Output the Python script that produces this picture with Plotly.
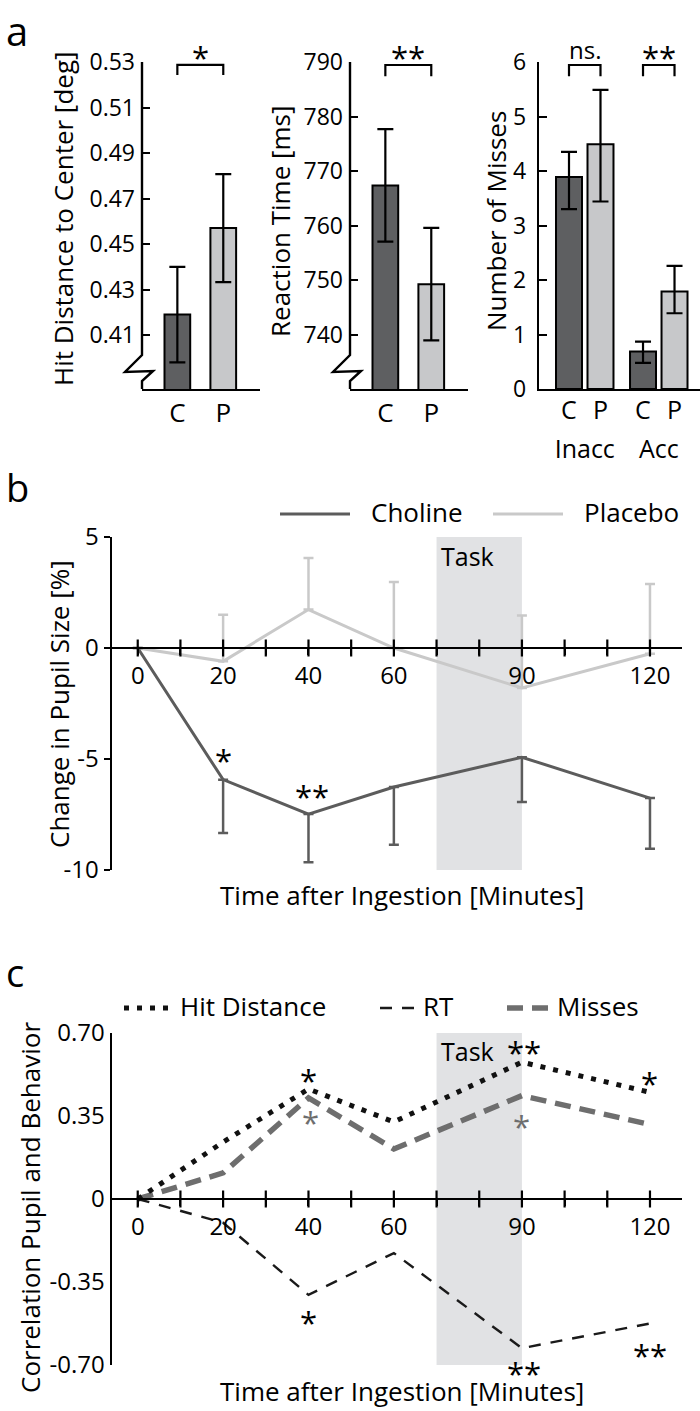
import plotly.graph_objects as go

W, H = 700, 1411

# ---------------- data ----------------
groups = ["C", "P"]
hit_dist = [0.419, 0.457]
hit_dist_se = [0.021, 0.0237]
hit_ticks = [0.41, 0.43, 0.45, 0.47, 0.49, 0.51, 0.53]

reaction_time = [767.4, 749.3]
reaction_time_se = [10.3, 10.3]
rt_ticks = [740, 750, 760, 770, 780, 790]

miss_conditions = ["Inacc", "Acc"]
misses_choline = [3.89, 0.69]
misses_choline_up = [0.46, 0.18]
misses_choline_dn = [0.59, 0.21]
misses_placebo = [4.49, 1.79]
misses_placebo_up = [1.00, 0.47]
misses_placebo_dn = [1.05, 0.40]
miss_ticks = [0, 1, 2, 3, 4, 5, 6]

times = [0, 20, 40, 60, 90, 120]
pupil_choline = [0, -5.93, -7.48, -6.26, -4.92, -6.76]
pupil_choline_se = [0, 2.40, 2.17, 2.60, 2.02, 2.28]
pupil_placebo = [0, -0.60, 1.73, 0.0, -1.80, -0.26]
pupil_placebo_se = [0, 2.10, 2.32, 2.97, 3.26, 3.14]
pupil_ticks = [5, 0, -5, -10]

corr_hit = [0, 0.24, 0.464, 0.325, 0.577, 0.45]
corr_rt = [0, -0.10, -0.404, -0.228, -0.629, -0.525]
corr_miss = [0, 0.11, 0.426, 0.211, 0.436, 0.314]
corr_ticks = [0.70, 0.35, 0, -0.35, -0.70]
corr_ticktext = ["0.70", "0.35", "0", "-0.35", "-0.70"]

time_ticks = [0, 10, 20, 30, 40, 50, 60, 70, 80, 90, 100, 110, 120]
time_labels = [0, 20, 40, 60, 90, 120]
task_window = [70, 90]

# significance marks (x, y, text, colour key)
sig_pupil = [(20, -4.73, "*", "k"), (40.9, -6.38, "**", "k")]
sig_corr = [(40, 0.532, "*", "k"), (40.5, 0.352, "*", "g"), (90.5, 0.647, "**", "k"),
            (90, 0.338, "*", "g"), (119.8, 0.520, "*", "k"), (40, -0.492, "*", "k"),
            (90.5, -0.705, "**", "k"), (120, -0.629, "**", "k")]

# ---------------- style ----------------
FONT = "Open Sans"
DARK = "#5e5f61"
LIGHT = "#c7c8ca"
CHOL = "#5c5c5c"
PLAC = "#c9c9c9"
TASK = "#e1e2e4"
MISS = "#6e6e6e"
FS_TICK = 24
FS_TXT = 26
FS_AST = 31


def px(x):
    return x / W


def py(y):
    return 1 - y / H


fig = go.Figure()

BAR_W = 0.56
err_k = dict(type="data", color="black", thickness=2.2, width=8)

# panel a, sub 1
fig.add_trace(go.Bar(x=groups, y=hit_dist, width=BAR_W,
                     error_y=dict(array=hit_dist_se, **err_k),
                     marker=dict(color=[DARK, LIGHT], line=dict(color="black", width=2)),
                     xaxis="x", yaxis="y", showlegend=False))
# panel a, sub 2
fig.add_trace(go.Bar(x=groups, y=reaction_time, width=BAR_W,
                     error_y=dict(array=reaction_time_se, **err_k),
                     marker=dict(color=[DARK, LIGHT], line=dict(color="black", width=2)),
                     xaxis="x2", yaxis="y2", showlegend=False))
# panel a, sub 3
fig.add_trace(go.Bar(x=miss_conditions, y=misses_choline, name="C",
                     error_y=dict(array=misses_choline_up, arrayminus=misses_choline_dn, symmetric=False, **err_k),
                     marker=dict(color=DARK, line=dict(color="black", width=2)),
                     xaxis="x3", yaxis="y3", showlegend=False))
fig.add_trace(go.Bar(x=miss_conditions, y=misses_placebo, name="P",
                     error_y=dict(array=misses_placebo_up, arrayminus=misses_placebo_dn, symmetric=False, **err_k),
                     marker=dict(color=LIGHT, line=dict(color="black", width=2)),
                     xaxis="x3", yaxis="y3", showlegend=False))

# panel b
fig.add_trace(go.Scatter(x=times, y=pupil_placebo, mode="lines", name="Placebo",
                         line=dict(color=PLAC, width=3),
                         error_y=dict(type="data", symmetric=False, array=pupil_placebo_se,
                                      arrayminus=[0] * len(times), color=PLAC, thickness=2.5, width=5),
                         xaxis="x4", yaxis="y4", showlegend=False))
fig.add_trace(go.Scatter(x=times, y=pupil_choline, mode="lines", name="Choline",
                         line=dict(color=CHOL, width=3),
                         error_y=dict(type="data", symmetric=False, array=[0] * len(times),
                                      arrayminus=pupil_choline_se, color=CHOL, thickness=2.5, width=5),
                         xaxis="x4", yaxis="y4", showlegend=False))
fig.add_trace(go.Scatter(x=time_ticks, y=[0] * len(time_ticks), mode="markers",
                         marker=dict(symbol="line-ns", size=12, line=dict(color="black", width=2.2)),
                         xaxis="x4", yaxis="y4", showlegend=False, hoverinfo="skip"))

# panel c
fig.add_trace(go.Scatter(x=times, y=corr_miss, mode="lines", name="Misses",
                         line=dict(color=MISS, width=5.5, dash="16px,9px"),
                         xaxis="x5", yaxis="y5", showlegend=False))
fig.add_trace(go.Scatter(x=times, y=corr_rt, mode="lines", name="RT",
                         line=dict(color="#1a1a1a", width=2.4, dash="12px,10px"),
                         xaxis="x5", yaxis="y5", showlegend=False))
fig.add_trace(go.Scatter(x=times, y=corr_hit, mode="lines", name="Hit Distance",
                         line=dict(color="#111111", width=5, dash="5px,8px"),
                         xaxis="x5", yaxis="y5", showlegend=False))
fig.add_trace(go.Scatter(x=time_ticks, y=[0] * len(time_ticks), mode="markers",
                         marker=dict(symbol="line-ns", size=12, line=dict(color="black", width=2.2)),
                         xaxis="x5", yaxis="y5", showlegend=False, hoverinfo="skip"))

tickfont = dict(family=FONT, size=FS_TICK, color="black")
AX_W = 2.4

# bars geometry in sub 3 (grouped)
BARGAP = 0.149
GROUPGAP = 0.175
slot = (1 - BARGAP) / 2
off = slot / 2


def ax_bar_x(dom, rng, fs=FS_TXT):
    return dict(domain=[px(dom[0]), px(dom[1])], range=rng, showline=True, linecolor="black",
                linewidth=AX_W, ticks="", showgrid=False, zeroline=False,
                tickfont=dict(family=FONT, size=fs, color="black"), fixedrange=True)


def ax_bar_y(rng, tv, tt, anchor, line=True):
    return dict(domain=[py(389), py(62)], range=rng, tickvals=tv, ticktext=tt, ticks="inside",
                ticklen=8, tickwidth=2, tickcolor="black", showline=line, linecolor="black",
                linewidth=AX_W, showgrid=False, zeroline=False, tickfont=dict(family=FONT, size=23, color="black"),
                anchor=anchor, ticklabelstandoff=6)


hit_rng = [0.3863, 0.53]
rt_rng = [730.1, 790]
miss_rng = [0, 6]

xb = dict(showline=True, linecolor="black", linewidth=AX_W, showgrid=False, zeroline=False,
          tickfont=tickfont, ticks="outside", ticklen=6, tickwidth=2.2, tickcolor="black")

pb_dom = [py(870), py(537)]
pb_rng = [-10, 5]
pc_dom = [py(1365), py(1033)]
pc_rng = [-0.7, 0.7]


def data_to_paper(v, dom, rng):
    return dom[0] + (v - rng[0]) / (rng[1] - rng[0]) * (dom[1] - dom[0])


time_text = [str(t) if t in time_labels else "" for t in time_ticks]
time_rng = [-6.1, 127.5]

fig.update_layout(
    width=W, height=H, margin=dict(l=0, r=0, t=0, b=0, autoexpand=False),
    paper_bgcolor="white", plot_bgcolor="rgba(0,0,0,0)",
    barmode="group", bargap=BARGAP, bargroupgap=GROUPGAP,
    font=dict(family=FONT, color="black"),
    xaxis=dict(**ax_bar_x([142, 260], [-0.77, 1.8]), anchor="y"),
    yaxis=ax_bar_y(hit_rng, hit_ticks, [f"{v:.2f}" for v in hit_ticks], "x", line=False),
    xaxis2=dict(**ax_bar_x([350, 468], [-0.77, 1.8]), anchor="y2"),
    yaxis2=ax_bar_y(rt_rng, rt_ticks, [str(v) for v in rt_ticks], "x2", line=False),
    xaxis3=dict(**ax_bar_x([539, 700], [-0.618, 1.557], fs=25), anchor="y3", ticklabelstandoff=37),
    yaxis3=ax_bar_y(miss_rng, miss_ticks, [str(v) for v in miss_ticks], "x3"),
    xaxis4=dict(**xb, domain=[px(111.7), px(682)], range=time_rng, anchor="free",
                position=data_to_paper(0, pb_dom, pb_rng), tickvals=time_ticks, ticktext=time_text),
    yaxis4=dict(domain=pb_dom, range=pb_rng, tickvals=pupil_ticks, ticktext=[str(v) for v in pupil_ticks],
                ticks="outside", ticklen=6, tickwidth=2.2, tickcolor="black", showline=True,
                linecolor="black", linewidth=AX_W, showgrid=False, zeroline=False, tickfont=tickfont,
                anchor="x4"),
    xaxis5=dict(**xb, domain=[px(111.7), px(682)], range=time_rng, anchor="free",
                position=data_to_paper(0, pc_dom, pc_rng), tickvals=time_ticks, ticktext=time_text),
    yaxis5=dict(domain=pc_dom, range=pc_rng, tickvals=corr_ticks, ticktext=corr_ticktext,
                ticks="", showline=True, linecolor="black", linewidth=AX_W, showgrid=False,
                zeroline=False, tickfont=tickfont, anchor="x5"),
)

shapes = []
# broken y axes in sub 1 & 2
for ax_x in (142, 350):
    pts = [(ax_x, 62), (ax_x, 355), (ax_x - 17, 372), (ax_x + 11, 371), (ax_x, 381), (ax_x, 389)]
    path = "M " + " L ".join(f"{px(a)},{py(b)}" for a, b in pts)
    shapes.append(dict(type="path", path=path, xref="paper", yref="paper",
                       line=dict(color="black", width=AX_W)))


def bracket(xr, yr, x0, x1, ytop, ybot):
    return dict(type="path", xref=xr, yref=yr,
                path=f"M {x0},{ybot} L {x0},{ytop} L {x1},{ytop} L {x1},{ybot}",
                line=dict(color="black", width=2.2))


shapes.append(bracket("x", "y", 0, 1, 0.5287, 0.5243))
shapes.append(bracket("x2", "y2", 0, 1, 789.45, 787.4))
shapes.append(bracket("x3", "y3", -off, off, 5.945, 5.74))
shapes.append(bracket("x3", "y3", 1 - off, 1 + off, 5.945, 5.74))

# task windows
for xr, yr, rng in (("x4", "y4", pb_rng), ("x5", "y5", pc_rng)):
    shapes.append(dict(type="rect", xref=xr, yref=yr, x0=task_window[0], x1=task_window[1],
                       y0=rng[0], y1=rng[1], fillcolor=TASK, line=dict(width=0), layer="below"))


# legend samples
def leg_line(x0, x1, y, color, width, dash="solid"):
    return dict(type="line", xref="paper", yref="paper", x0=px(x0), x1=px(x1), y0=py(y), y1=py(y),
                line=dict(color=color, width=width, dash=dash))


shapes += [leg_line(280, 350, 514, CHOL, 3), leg_line(493, 563, 514, PLAC, 3),
           leg_line(124, 172, 1008, "#111111", 5, "5px,8px"),
           leg_line(380, 418, 1008, "#1a1a1a", 2.4, "12px,10px"),
           leg_line(507, 548, 1008, MISS, 5.5, "16px,9px")]

fig.update_layout(shapes=shapes)

ann = []


def txt(x, y, s, size=FS_TXT, xanchor="center", yanchor="middle", angle=0, color="black",
        xref="paper", yref="paper", yshift=0):
    ann.append(dict(x=x, y=y, text=s, xref=xref, yref=yref, showarrow=False, xanchor=xanchor,
                    yanchor=yanchor, textangle=angle, yshift=yshift,
                    font=dict(family=FONT, size=size, color=color)))


# panel letters
txt(px(4), 1, "a", size=40, xanchor="left", yanchor="top", yshift=-1)
txt(px(4), py(487), "b", size=38, xanchor="left")
txt(px(4), py(972), "c", size=38, xanchor="left")

# y titles
txt(px(63), py(219), "Hit Distance to Center [deg]", angle=-90)
txt(px(280), py(221), "Reaction Time [ms]", angle=-90)
txt(px(496), py(221), "Number of Misses", angle=-90)
txt(px(59), py(704), "Change in Pupil Size [%]", angle=-90)
txt(px(30), py(1208), "Correlation Pupil and Behavior", angle=-90)
# x titles
txt(px(402), py(895), "Time after Ingestion [Minutes]")
txt(px(402), py(1391), "Time after Ingestion [Minutes]")

# C / P labels under grouped bars of sub 3
for cx in (0, 1):
    txt(cx - off, py(409), "C", size=25, xref="x3")
    txt(cx + off, py(409), "P", size=25, xref="x3")

# significance in panel a
ys = -0.22 * FS_AST
txt(0.5, py(50), "*", size=FS_AST, xref="x", yshift=ys)
txt(0.5, py(50), "**", size=FS_AST, xref="x2", yshift=ys)
txt(0, py(50), "ns.", size=24, xref="x3")
txt(1, py(50), "**", size=FS_AST, xref="x3", yshift=ys)

# task labels
txt(70.6, 4.13, "Task", size=25, xanchor="left", xref="x4", yref="y4")
txt(70.6, 0.623, "Task", size=25, xanchor="left", xref="x5", yref="y5")

for x, y, s, c in sig_pupil:
    txt(x, data_to_paper(y, pb_dom, pb_rng), s, size=FS_AST, xref="x4", yshift=ys, color="black")
for x, y, s, c in sig_corr:
    txt(x, data_to_paper(y, pc_dom, pc_rng), s, size=FS_AST, xref="x5", yshift=ys,
        color="black" if c == "k" else MISS)

# legend texts
txt(px(369), py(512), "Choline", xanchor="left")
txt(px(582), py(512), "Placebo", xanchor="left")
txt(px(178), py(1006), "Hit Distance", xanchor="left")
txt(px(421), py(1006), "RT", xanchor="left")
txt(px(555), py(1006), "Misses", xanchor="left")

fig.update_layout(annotations=ann)

fig.write_html("out.html", config={"displayModeBar": False},
               post_script="document.body.style.margin='0';document.body.style.padding='0';"
                           "document.body.style.overflow='hidden';")
